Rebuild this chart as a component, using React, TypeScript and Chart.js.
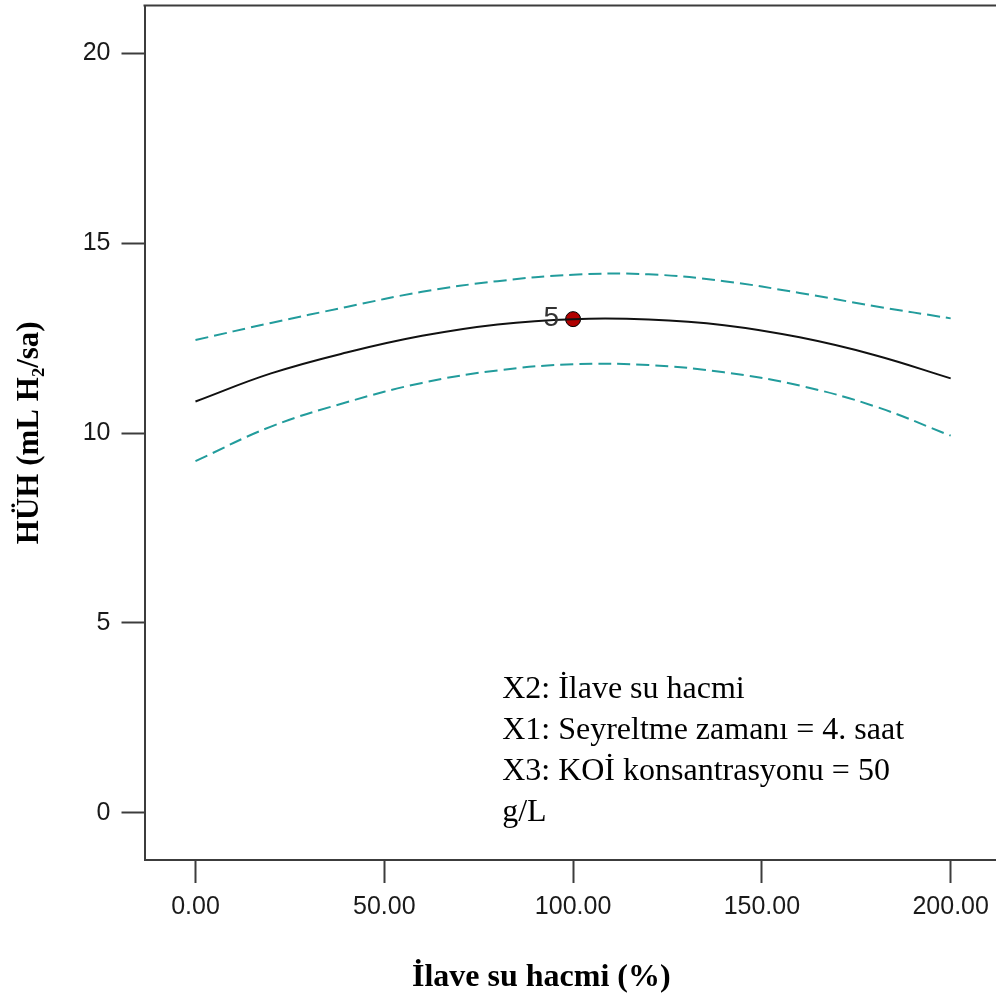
import React, { useEffect, useRef } from 'react';
import { Chart, registerables } from 'chart.js';

Chart.register(...registerables);

// ---- data ----
const X_VALUES = [0, 20, 40, 60, 80, 100, 120, 140, 160, 180, 200];
const PREDICTION = [10.83, 11.57, 12.12, 12.56, 12.86, 13.0, 12.99, 12.84, 12.52, 12.05, 11.44];
const UPPER_CI = [12.45, 12.9, 13.32, 13.72, 14.0, 14.17, 14.18, 14.0, 13.69, 13.34, 13.02];
const LOWER_CI = [9.26, 10.17, 10.81, 11.32, 11.65, 11.81, 11.79, 11.6, 11.25, 10.7, 9.93];
const DESIGN_X = [100];
const DESIGN_Y = [13.0];
const DESIGN_LABELS = ['5'];
const X_TICKS = [0, 50, 100, 150, 200];
const Y_TICKS = [0, 5, 10, 15, 20];
const X_TITLE = 'İlave su hacmi (%)';
const Y_TITLE = 'HÜH (mL H₂/sa)';
const NOTE_LINES = [
  'X2: İlave su hacmi',
  'X1: Seyreltme zamanı = 4. saat',
  'X3: KOİ konsantrasyonu = 50',
  'g/L',
];

const AXIS = '#3c3c3c';
const SANS = '"Liberation Sans", Arial, sans-serif';
const SERIF = '"Liberation Serif", "Times New Roman", serif';

const overlay = {
  id: 'overlay',
  afterDraw(chart: any) {
    const { ctx, chartArea } = chart;
    const w = chartArea.right - chartArea.left;
    ctx.save();
    // top frame line
    ctx.strokeStyle = AXIS;
    ctx.lineWidth = 2;
    ctx.beginPath();
    ctx.moveTo(chartArea.left - 1, chartArea.top);
    ctx.lineTo(chartArea.right, chartArea.top);
    ctx.stroke();

    // design point labels
    const meta = chart.getDatasetMeta(3);
    ctx.font = `28px ${SANS}`;
    ctx.fillStyle = '#333';
    ctx.textAlign = 'right';
    ctx.textBaseline = 'alphabetic';
    meta.data.forEach((el: any, i: number) => {
      ctx.fillText(DESIGN_LABELS[i], el.x - 14, el.y + 7);
    });

    // factor note
    ctx.font = `32px ${SERIF}`;
    ctx.fillStyle = '#000';
    ctx.textAlign = 'left';
    const x0 = chartArea.left + w * 0.42;
    NOTE_LINES.forEach((t, i) => {
      ctx.fillText(t, x0, chartArea.bottom - 162 + i * 41);
    });

    // x axis title
    ctx.font = `bold 32px ${SERIF}`;
    ctx.textAlign = 'center';
    ctx.textBaseline = 'middle';
    ctx.fillText(X_TITLE, chartArea.left + w * 0.466, chartArea.bottom + 118);
    ctx.restore();
  },
};

export default function App() {
  const ref = useRef<HTMLCanvasElement | null>(null);

  useEffect(() => {
    if (!ref.current) return;
    const chart = new Chart(ref.current, {
      type: 'line',
      data: {
        datasets: [
          {
            label: 'Upper',
            data: X_VALUES.map((x, i) => ({ x, y: UPPER_CI[i] })),
            borderColor: '#229c9c',
            borderWidth: 2,
            borderDash: [13, 6],
            pointRadius: 0,
            tension: 0.4,
            fill: false,
          },
          {
            label: 'Prediction',
            data: X_VALUES.map((x, i) => ({ x, y: PREDICTION[i] })),
            borderColor: '#111',
            borderWidth: 2,
            pointRadius: 0,
            tension: 0.4,
            fill: false,
          },
          {
            label: 'Lower',
            data: X_VALUES.map((x, i) => ({ x, y: LOWER_CI[i] })),
            borderColor: '#229c9c',
            borderWidth: 2,
            borderDash: [13, 6],
            pointRadius: 0,
            tension: 0.4,
            fill: false,
          },
          {
            label: 'Design',
            type: 'scatter',
            data: DESIGN_X.map((x, i) => ({ x, y: DESIGN_Y[i] })),
            backgroundColor: '#b00000',
            borderColor: '#000',
            borderWidth: 1,
            pointRadius: 7.5,
            showLine: false,
          } as any,
        ],
      },
      options: {
        responsive: false,
        animation: false,
        events: [],
        layout: { autoPadding: false, padding: { top: 5.5, right: 0, left: 0, bottom: 0 } },
        plugins: { legend: { display: false }, tooltip: { enabled: false } },
        scales: {
          x: {
            type: 'linear',
            min: -13.5,
            max: 212,
            afterBuildTicks: (s: any) => {
              s.ticks = X_TICKS.map((v) => ({ value: v }));
            },
            afterFit: (s: any) => {
              s.height = 143;
              s.paddingLeft = 0;
              s.paddingRight = 0;
            },
            grid: { drawOnChartArea: false, drawTicks: true, tickLength: 23, tickWidth: 2, tickColor: AXIS },
            border: { display: true, color: AXIS, width: 2 },
            ticks: {
              callback: (v: any) => Number(v).toFixed(2),
              font: { family: SANS, size: 25 },
              color: '#1a1a1a',
              padding: 9,
              maxRotation: 0,
              autoSkip: false,
            },
            title: { display: false },
          },
          y: {
            type: 'linear',
            min: -1.245,
            max: 21.26,
            afterBuildTicks: (s: any) => {
              s.ticks = Y_TICKS.map((v) => ({ value: v }));
            },
            afterFit: (s: any) => {
              s.width = 144.5;
              s.paddingTop = 0;
              s.paddingBottom = 0;
            },
            grid: { drawOnChartArea: false, drawTicks: true, tickLength: 23, tickWidth: 2, tickColor: AXIS },
            border: { display: true, color: AXIS, width: 2 },
            ticks: {
              font: { family: SANS, size: 25 },
              color: '#1a1a1a',
              padding: 11,
            },
            title: {
              display: true,
              text: Y_TITLE,
              font: { family: SERIF, size: 31, weight: 'bold' },
              color: '#000',
              padding: { top: 11, bottom: 0 },
            },
          },
        },
      },
      plugins: [overlay],
    });
    return () => chart.destroy();
  }, []);

  return (
    <div style={{ position: 'fixed', left: 0, top: 0, width: 996, height: 1003, background: '#fff' }}>
      <canvas ref={ref} width={996} height={1003} style={{ display: 'block' }} />
    </div>
  );
}
